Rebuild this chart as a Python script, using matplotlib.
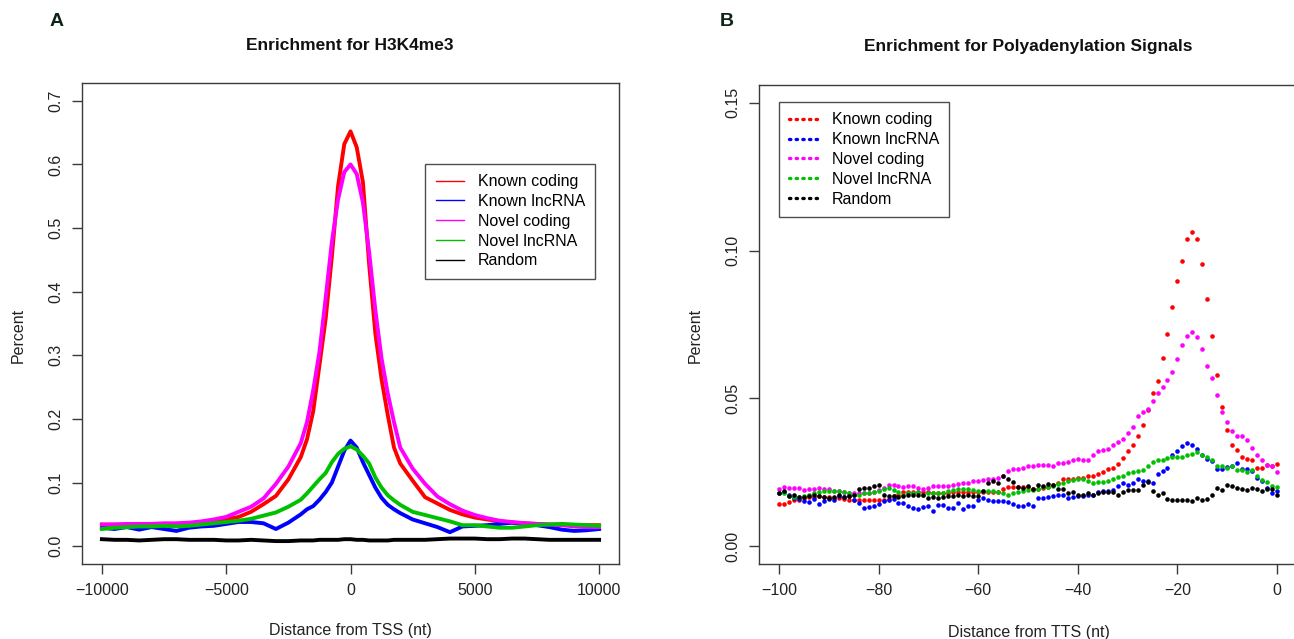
import matplotlib
matplotlib.use("Agg")
import matplotlib.pyplot as plt
from matplotlib.lines import Line2D

plt.rcParams['font.family'] = ['Liberation Sans', 'DejaVu Sans']

# ---------------- Panel A data (H3K4me3 around TSS) ----------------
tss_x = [-10000, -9500, -9000, -8500, -8000, -7500, -7000, -6500, -6000, -5500,
         -5000, -4500, -4000, -3500, -3000, -2500, -2000, -1750, -1500, -1250,
         -1000, -750, -500, -250, 0, 250, 500, 750, 1000, 1250,
         1500, 1750, 2000, 2500, 3000, 3500, 4000, 4500, 5000, 5500,
         6000, 6500, 7000, 7500, 8000, 8500, 9000, 9500, 10000]

a_known_coding = [0.034, 0.034, 0.034, 0.034, 0.035, 0.035, 0.035, 0.036, 0.037, 0.039,
                  0.042, 0.046, 0.054, 0.066, 0.079, 0.105, 0.140, 0.168, 0.212, 0.284,
                  0.357, 0.455, 0.566, 0.632, 0.652, 0.627, 0.572, 0.443, 0.334, 0.262,
                  0.206, 0.155, 0.130, 0.103, 0.077, 0.067, 0.057, 0.050, 0.045, 0.042,
                  0.039, 0.037, 0.036, 0.035, 0.034, 0.034, 0.033, 0.033, 0.033]
a_known_lnc = [0.029, 0.027, 0.030, 0.026, 0.030, 0.027, 0.024, 0.029, 0.031, 0.032,
               0.035, 0.038, 0.038, 0.036, 0.027, 0.037, 0.050, 0.058, 0.063, 0.073,
               0.085, 0.100, 0.125, 0.150, 0.166, 0.155, 0.132, 0.112, 0.092, 0.076,
               0.065, 0.058, 0.052, 0.042, 0.036, 0.030, 0.022, 0.031, 0.032, 0.033,
               0.035, 0.037, 0.035, 0.033, 0.030, 0.026, 0.024, 0.025, 0.027]
a_novel_coding = [0.034, 0.034, 0.035, 0.035, 0.035, 0.036, 0.036, 0.037, 0.039, 0.042,
                  0.046, 0.054, 0.062, 0.075, 0.098, 0.125, 0.162, 0.195, 0.245, 0.305,
                  0.390, 0.478, 0.545, 0.588, 0.600, 0.585, 0.540, 0.462, 0.371, 0.295,
                  0.240, 0.195, 0.155, 0.122, 0.098, 0.078, 0.066, 0.056, 0.049, 0.044,
                  0.040, 0.038, 0.036, 0.035, 0.034, 0.033, 0.031, 0.030, 0.030]
a_novel_lnc = [0.027, 0.029, 0.030, 0.031, 0.031, 0.032, 0.031, 0.032, 0.034, 0.036,
               0.038, 0.040, 0.043, 0.048, 0.053, 0.062, 0.073, 0.083, 0.094, 0.105,
               0.115, 0.132, 0.145, 0.153, 0.157, 0.152, 0.142, 0.130, 0.108, 0.092,
               0.080, 0.072, 0.065, 0.054, 0.049, 0.044, 0.039, 0.033, 0.033, 0.031,
               0.029, 0.029, 0.031, 0.033, 0.034, 0.035, 0.034, 0.033, 0.032]
a_random = [0.011, 0.010, 0.010, 0.009, 0.010, 0.011, 0.011, 0.010, 0.010, 0.010,
            0.009, 0.009, 0.010, 0.009, 0.008, 0.008, 0.009, 0.009, 0.009, 0.010,
            0.010, 0.010, 0.010, 0.011, 0.011, 0.010, 0.010, 0.009, 0.009, 0.009,
            0.009, 0.010, 0.010, 0.010, 0.010, 0.011, 0.012, 0.012, 0.012, 0.011,
            0.011, 0.012, 0.012, 0.011, 0.010, 0.010, 0.010, 0.010, 0.010]

# ---------------- Panel B data (polyadenylation signals around TTS) ----------------
tts_x = list(range(-100, 1))

b_known_coding = [0.0144, 0.0144, 0.0149, 0.0155, 0.0158, 0.0163, 0.0166, 0.0166, 0.0170, 0.0168,
                  0.0166, 0.0164, 0.0162, 0.0160, 0.0157, 0.0155, 0.0155, 0.0155, 0.0155, 0.0155,
                  0.0156, 0.0158, 0.0160, 0.0170, 0.0175, 0.0182, 0.0183, 0.0184, 0.0185, 0.0185,
                  0.0183, 0.0180, 0.0180, 0.0180, 0.0180, 0.0182, 0.0182, 0.0182, 0.0182, 0.0185,
                  0.0185, 0.0185, 0.0183, 0.0183, 0.0183, 0.0195, 0.0200, 0.0200, 0.0200, 0.0200,
                  0.0200, 0.0192, 0.0195, 0.0198, 0.0200, 0.0207, 0.0215, 0.0226, 0.0229, 0.0229,
                  0.0230, 0.0231, 0.0237, 0.0237, 0.0243, 0.0252, 0.0260, 0.0265, 0.0279, 0.0297,
                  0.0321, 0.0343, 0.0372, 0.0411, 0.0462, 0.0520, 0.0559, 0.0638, 0.0719, 0.0810,
                  0.0897, 0.0965, 0.1039, 0.1063, 0.1038, 0.0956, 0.0835, 0.0712, 0.0579, 0.0470,
                  0.0394, 0.0344, 0.0324, 0.0303, 0.0295, 0.0293, 0.0264, 0.0264, 0.0274, 0.0271,
                  0.0279]
b_known_lnc = [0.0181, 0.0183, 0.0175, 0.0163, 0.0161, 0.0153, 0.0149, 0.0161, 0.0144, 0.0153,
               0.0161, 0.0158, 0.0169, 0.0167, 0.0169, 0.0156, 0.0147, 0.0130, 0.0134, 0.0136,
               0.0142, 0.0153, 0.0155, 0.0161, 0.0147, 0.0147, 0.0136, 0.0128, 0.0125, 0.0134,
               0.0136, 0.0119, 0.0139, 0.0139, 0.0130, 0.0130, 0.0145, 0.0125, 0.0136, 0.0136,
               0.0158, 0.0162, 0.0156, 0.0153, 0.0153, 0.0153, 0.0151, 0.0142, 0.0136, 0.0136,
               0.0142, 0.0136, 0.0164, 0.0164, 0.0167, 0.0169, 0.0174, 0.0173, 0.0164, 0.0167,
               0.0169, 0.0169, 0.0172, 0.0175, 0.0183, 0.0186, 0.0186, 0.0190, 0.0203, 0.0215,
               0.0206, 0.0215, 0.0228, 0.0220, 0.0222, 0.0215, 0.0243, 0.0254, 0.0265, 0.0310,
               0.0321, 0.0338, 0.0349, 0.0343, 0.0329, 0.0310, 0.0295, 0.0290, 0.0262, 0.0262,
               0.0269, 0.0271, 0.0280, 0.0262, 0.0260, 0.0255, 0.0231, 0.0220, 0.0197, 0.0179,
               0.0186]
b_novel_coding = [0.0194, 0.0201, 0.0197, 0.0197, 0.0197, 0.0190, 0.0194, 0.0194, 0.0197, 0.0192,
                  0.0194, 0.0186, 0.0186, 0.0184, 0.0181, 0.0179, 0.0179, 0.0179, 0.0181, 0.0183,
                  0.0190, 0.0197, 0.0206, 0.0206, 0.0203, 0.0200, 0.0203, 0.0203, 0.0197, 0.0194,
                  0.0197, 0.0203, 0.0203, 0.0203, 0.0203, 0.0206, 0.0211, 0.0215, 0.0215, 0.0220,
                  0.0220, 0.0224, 0.0226, 0.0226, 0.0231, 0.0237, 0.0254, 0.0260, 0.0262, 0.0265,
                  0.0271, 0.0273, 0.0274, 0.0274, 0.0276, 0.0271, 0.0280, 0.0282, 0.0286, 0.0291,
                  0.0295, 0.0293, 0.0293, 0.0309, 0.0321, 0.0325, 0.0329, 0.0342, 0.0352, 0.0364,
                  0.0383, 0.0403, 0.0439, 0.0455, 0.0464, 0.0490, 0.0518, 0.0538, 0.0561, 0.0590,
                  0.0633, 0.0681, 0.0711, 0.0726, 0.0707, 0.0666, 0.0611, 0.0568, 0.0512, 0.0454,
                  0.0421, 0.0389, 0.0372, 0.0372, 0.0361, 0.0333, 0.0309, 0.0291, 0.0276, 0.0271,
                  0.0252]
b_novel_lnc = [0.0179, 0.0181, 0.0169, 0.0166, 0.0167, 0.0169, 0.0173, 0.0181, 0.0183, 0.0186,
               0.0186, 0.0186, 0.0186, 0.0183, 0.0181, 0.0175, 0.0175, 0.0179, 0.0179, 0.0183,
               0.0186, 0.0194, 0.0197, 0.0190, 0.0183, 0.0175, 0.0179, 0.0179, 0.0183, 0.0175,
               0.0181, 0.0179, 0.0179, 0.0181, 0.0186, 0.0190, 0.0192, 0.0194, 0.0192, 0.0190,
               0.0186, 0.0186, 0.0186, 0.0186, 0.0183, 0.0179, 0.0173, 0.0179, 0.0183, 0.0186,
               0.0190, 0.0190, 0.0194, 0.0200, 0.0201, 0.0203, 0.0209, 0.0215, 0.0220, 0.0224,
               0.0228, 0.0226, 0.0220, 0.0215, 0.0217, 0.0218, 0.0220, 0.0228, 0.0235, 0.0237,
               0.0248, 0.0250, 0.0254, 0.0257, 0.0271, 0.0286, 0.0291, 0.0293, 0.0299, 0.0301,
               0.0301, 0.0302, 0.0307, 0.0312, 0.0318, 0.0307, 0.0302, 0.0293, 0.0271, 0.0273,
               0.0265, 0.0273, 0.0257, 0.0257, 0.0250, 0.0257, 0.0239, 0.0224, 0.0217, 0.0203,
               0.0199]
b_random = [0.0181, 0.0186, 0.0169, 0.0175, 0.0167, 0.0167, 0.0169, 0.0172, 0.0169, 0.0167,
            0.0164, 0.0167, 0.0172, 0.0167, 0.0169, 0.0172, 0.0194, 0.0196, 0.0197, 0.0203,
            0.0206, 0.0175, 0.0169, 0.0169, 0.0167, 0.0169, 0.0172, 0.0174, 0.0175, 0.0172,
            0.0164, 0.0167, 0.0164, 0.0166, 0.0169, 0.0169, 0.0172, 0.0169, 0.0172, 0.0169,
            0.0169, 0.0186, 0.0215, 0.0222, 0.0215, 0.0237, 0.0228, 0.0218, 0.0200, 0.0197,
            0.0203, 0.0194, 0.0206, 0.0203, 0.0212, 0.0206, 0.0194, 0.0194, 0.0181, 0.0183,
            0.0175, 0.0175, 0.0179, 0.0173, 0.0179, 0.0183, 0.0183, 0.0183, 0.0174, 0.0183,
            0.0190, 0.0190, 0.0190, 0.0206, 0.0217, 0.0186, 0.0175, 0.0179, 0.0161, 0.0156,
            0.0156, 0.0156, 0.0156, 0.0152, 0.0164, 0.0158, 0.0161, 0.0175, 0.0197, 0.0190,
            0.0206, 0.0203, 0.0197, 0.0194, 0.0190, 0.0197, 0.0192, 0.0186, 0.0194, 0.0194,
            0.0172]

labels = ["Known coding", "Known lncRNA", "Novel coding", "Novel lncRNA", "Random"]
colors = ["#ff0000", "#0000ff", "#ff00ff", "#00c000", "#000000"]

a_ticks_x = [-10000, -5000, 0, 5000, 10000]
a_ticks_y = [0.0, 0.1, 0.2, 0.3, 0.4, 0.5, 0.6, 0.7]
a_ticklabels_y = ["0.0", "0.1", "0.2", "0.3", "0.4", "0.5", "0.6", "0.7"]
b_ticks_x = [-100, -80, -60, -40, -20, 0]
b_ticks_y = [0.00, 0.05, 0.10, 0.15]
b_ticklabels_y = ["0.00", "0.05", "0.10", "0.15"]

W, H = 1294, 639
fig = plt.figure(figsize=(W / 100, H / 100), dpi=100)


def px_axes(l, t, r, b):
    return fig.add_axes([l / W, 1 - b / H, (r - l) / W, (b - t) / H])


def style(ax):
    for s in ax.spines.values():
        s.set_color("#3a3a3a")
        s.set_linewidth(1.0)
    ax.tick_params(direction="out", length=7.5, width=1.0, color="#3a3a3a",
                   labelsize=11.5, pad=6.0, labelcolor="#222222")
    for lab in ax.get_yticklabels():
        lab.set_rotation(90)
        lab.set_va("center")


# ---------- Panel A ----------
axA = px_axes(82, 83, 619, 564)
series_a = [a_known_coding, a_known_lnc, a_novel_coding, a_novel_lnc, a_random]
for vals, c in zip(series_a, colors):
    axA.plot(tss_x, vals, color=c, lw=2.8, solid_joinstyle="round")
axA.set_xlim(-10800, 10800)
axA.set_ylim(-0.028, 0.728)
axA.set_xticks(a_ticks_x)
axA.set_yticks(a_ticks_y)
axA.set_yticklabels(a_ticklabels_y)
style(axA)
handles_a = [Line2D([0], [0], color=c, lw=1.0) for c in colors]
legA = axA.legend(handles_a, labels, loc="upper left", bbox_to_anchor=(0.639, 0.832),
                  borderaxespad=0, fontsize=11.5, frameon=True, fancybox=False,
                  edgecolor="#222222", handlelength=1.8, handletextpad=0.85,
                  labelspacing=0.3, borderpad=0.65)
legA.get_frame().set_linewidth(1.0)

# ---------- Panel B ----------
axB = px_axes(759, 85, 1297, 564)
series_b = [b_known_coding, b_known_lnc, b_novel_coding, b_novel_lnc, b_random]
for vals, c in zip(series_b, colors):
    axB.plot(tts_x, vals, linestyle="none", marker="o", ms=3.3, mew=0, color=c)
axB.set_xlim(-104, 4)
axB.set_ylim(-0.006, 0.156)
axB.set_xticks(b_ticks_x)
axB.set_yticks(b_ticks_y)
axB.set_yticklabels(b_ticklabels_y)
style(axB)
handles_b = [Line2D([0], [0], color=c, lw=2.4, linestyle=(0, (0.4, 1.6)),
                    dash_capstyle="round") for c in colors]
legB = axB.legend(handles_b, labels, loc="upper left", bbox_to_anchor=(0.037, 0.9645),
                  borderaxespad=0, fontsize=11.5, frameon=True, fancybox=False,
                  edgecolor="#222222", handlelength=1.8, handletextpad=0.85,
                  labelspacing=0.3, borderpad=0.65)
legB.get_frame().set_linewidth(1.0)

# ---------- texts ----------
panel_col = "#0f2318"
fig.text(57 / W, 1 - 22 / H, "A", fontsize=14, fontweight="bold", color=panel_col,
         ha="center", va="center")
fig.text(727 / W, 1 - 22 / H, "B", fontsize=14, fontweight="bold", color=panel_col,
         ha="center", va="center")
fig.text(350 / W, 1 - 46 / H, "Enrichment for H3K4me3", fontsize=12.5,
         fontweight="bold", color="#111111", ha="center", va="center")
fig.text(1028 / W, 1 - 47 / H, "Enrichment for Polyadenylation Signals", fontsize=12.5,
         fontweight="bold", color="#111111", ha="center", va="center")
fig.text(18 / W, 1 - 335 / H, "Percent", fontsize=11.5, rotation=90, color="#222222",
         ha="center", va="center")
fig.text(695 / W, 1 - 335 / H, "Percent", fontsize=11.5, rotation=90, color="#222222",
         ha="center", va="center")
fig.text(350 / W, 1 - 630 / H, "Distance from TSS (nt)", fontsize=11.5, color="#222222",
         ha="center", va="center")
fig.text(1029 / W, 1 - 632 / H, "Distance from TTS (nt)", fontsize=11.5, color="#222222",
         ha="center", va="center")

fig.savefig("out.png", dpi=100)
